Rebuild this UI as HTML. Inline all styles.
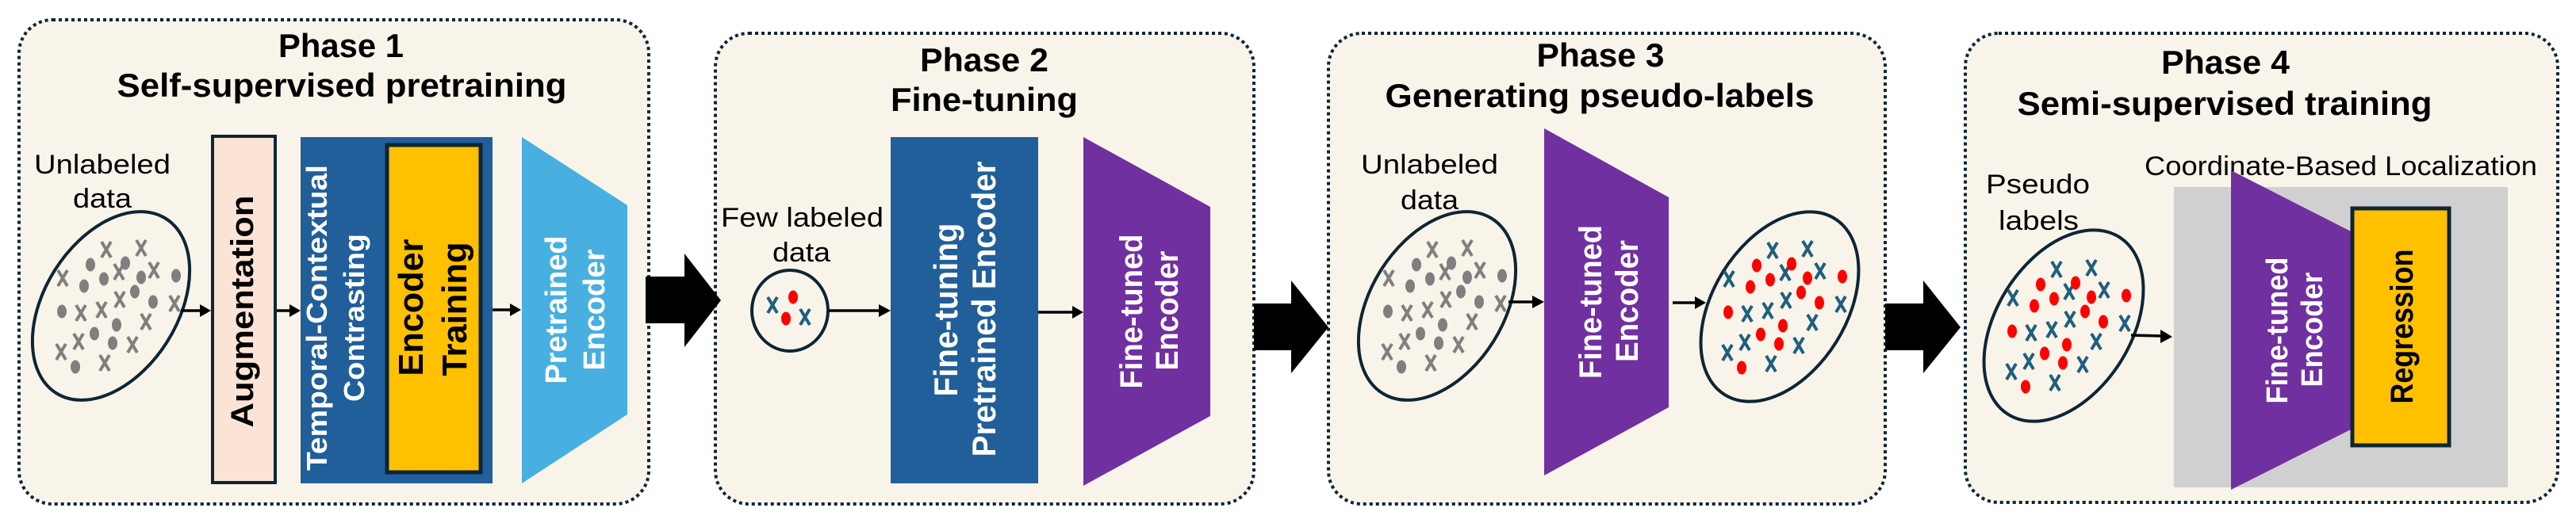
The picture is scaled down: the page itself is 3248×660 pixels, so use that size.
<!DOCTYPE html>
<html><head><meta charset="utf-8"><style>
html,body{margin:0;padding:0;background:#fff;}
svg{display:block;}
.t{font-family:"Liberation Sans",Arial,sans-serif;font-weight:bold;fill:#000;}
.r{font-family:"Liberation Sans",Arial,sans-serif;fill:#000;font-size:34px;}
.w{font-family:"Liberation Sans",Arial,sans-serif;font-weight:bold;fill:#fff;}
.b{font-family:"Liberation Sans",Arial,sans-serif;font-weight:bold;fill:#000;}
</style></head><body>
<svg width="3248" height="660" viewBox="0 0 3248 660" xmlns="http://www.w3.org/2000/svg">
<defs>
<g id="pat">
  <g style="stroke:var(--xc)" stroke-width="4" stroke-linecap="butt">
    <path d="M-15,-81 l12,20 M-3,-81 l-12,20"/>
    <path d="M29,-83 l12,20 M41,-83 l-12,20"/>
    <path d="M-70,-45 l12,20 M-58,-45 l-12,20"/>
    <path d="M45,-55 l12,20 M57,-55 l-12,20"/>
    <path d="M1,-53 l12,20 M13,-53 l-12,20"/>
    <path d="M-47,-1 l12,20 M-35,-1 l-12,20"/>
    <path d="M-21,-5 l12,20 M-9,-5 l-12,20"/>
    <path d="M2,-18 l12,20 M14,-18 l-12,20"/>
    <path d="M35,10 l12,20 M47,10 l-12,20"/>
    <path d="M71,-13 l12,20 M83,-13 l-12,20"/>
    <path d="M-50,35 l12,20 M-38,35 l-12,20"/>
    <path d="M-72,48 l12,20 M-60,48 l-12,20"/>
    <path d="M18,39 l12,20 M30,39 l-12,20"/>
    <path d="M-17,62 l12,20 M-5,62 l-12,20"/>
  </g>
  <g style="fill:var(--dc)">
    <ellipse cx="-29" cy="-52" rx="6" ry="8.5"/>
    <ellipse cx="15" cy="-54" rx="6" ry="8.5"/>
    <ellipse cx="-12" cy="-34" rx="6" ry="8.5"/>
    <ellipse cx="35" cy="-36" rx="6" ry="8.5"/>
    <ellipse cx="79" cy="-38" rx="6" ry="8.5"/>
    <ellipse cx="-37" cy="-25" rx="6" ry="8.5"/>
    <ellipse cx="27" cy="-18" rx="6" ry="8.5"/>
    <ellipse cx="50" cy="-5" rx="6" ry="8.5"/>
    <ellipse cx="-65" cy="7" rx="6" ry="8.5"/>
    <ellipse cx="4" cy="24" rx="6" ry="8.5"/>
    <ellipse cx="-24" cy="35" rx="6" ry="8.5"/>
    <ellipse cx="-1" cy="47" rx="6" ry="8.5"/>
    <ellipse cx="-48" cy="77" rx="6" ry="8.5"/>
  </g>
</g>
<marker id="ah" markerWidth="10" markerHeight="10" refX="9" refY="5" orient="auto" markerUnits="userSpaceOnUse" viewBox="0 0 10 10">
</marker>
</defs>

<!-- Panels -->
<g fill="#f8f4ea" stroke="#0d2535" stroke-width="4" stroke-dasharray="4 4">
  <rect x="24" y="25" width="794" height="611" rx="42"/>
  <rect x="902" y="42" width="679" height="594" rx="42"/>
  <rect x="1675" y="42" width="702" height="594" rx="42"/>
  <rect x="2478" y="42" width="747" height="592" rx="42"/>
</g>

<!-- Big arrows -->
<polygon points="814,349 863,349 863,320 909,379 863,438 863,408 814,408" fill="#000"/>
<polygon points="1581,383 1628,383 1628,354 1675,413 1628,471 1628,442 1581,442" fill="#000"/>
<polygon points="2377,383 2425,383 2425,354 2472,413 2425,471 2425,442 2377,442" fill="#000"/>

<!-- Titles -->
<text class="t" font-size="42" x="430" y="72" text-anchor="middle" textLength="158" lengthAdjust="spacingAndGlyphs">Phase 1</text>
<text class="t" font-size="42" x="431" y="122" text-anchor="middle" textLength="567" lengthAdjust="spacingAndGlyphs">Self-supervised pretraining</text>
<text class="t" font-size="42" x="1241" y="90" text-anchor="middle" textLength="162" lengthAdjust="spacingAndGlyphs">Phase 2</text>
<text class="t" font-size="42" x="1241" y="140" text-anchor="middle" textLength="236" lengthAdjust="spacingAndGlyphs">Fine-tuning</text>
<text class="t" font-size="42" x="2018" y="84" text-anchor="middle" textLength="161" lengthAdjust="spacingAndGlyphs">Phase 3</text>
<text class="t" font-size="42" x="2017" y="135" text-anchor="middle" textLength="541" lengthAdjust="spacingAndGlyphs">Generating pseudo-labels</text>
<text class="t" font-size="42" x="2806" y="93" text-anchor="middle" textLength="162" lengthAdjust="spacingAndGlyphs">Phase 4</text>
<text class="t" font-size="42" x="2805" y="145" text-anchor="middle" textLength="523" lengthAdjust="spacingAndGlyphs">Semi-supervised training</text>

<!-- ===== Phase 1 ===== -->
<text class="r" x="43" y="219" textLength="172" lengthAdjust="spacingAndGlyphs">Unlabeled</text>
<text class="r" x="92" y="262" textLength="74" lengthAdjust="spacingAndGlyphs">data</text>
<ellipse cx="140" cy="386" rx="84" ry="130" transform="rotate(32 140 386)" fill="none" stroke="#0d2535" stroke-width="4"/>
<use href="#pat" x="143" y="386" style="--xc:#7f7f7f;--dc:#7f7f7f"/>
<g stroke="#000" stroke-width="3.5"><line x1="228" y1="392" x2="254" y2="392"/><line x1="348" y1="392" x2="367" y2="392"/><line x1="621" y1="391" x2="645" y2="391"/></g>
<g fill="#000"><polygon points="252,384 266,392 252,400"/><polygon points="365,384 379,392 365,400"/><polygon points="643,383 657,391 643,399"/></g>
<rect x="268" y="172" width="79" height="437" fill="#fbe3d6" stroke="#0d2535" stroke-width="4"/>
<text class="b" font-size="40" transform="translate(319,393) rotate(-90)" text-anchor="middle" textLength="293" lengthAdjust="spacingAndGlyphs">Augmentation</text>
<rect x="379" y="173" width="242" height="437" fill="#215f9a"/>
<text class="w" font-size="36" transform="translate(412,401) rotate(-90)" text-anchor="middle" textLength="386" lengthAdjust="spacingAndGlyphs">Temporal-Contextual</text>
<text class="w" font-size="36" transform="translate(459,401) rotate(-90)" text-anchor="middle" textLength="212" lengthAdjust="spacingAndGlyphs">Contrasting</text>
<rect x="488" y="183" width="118" height="413" fill="#ffc000" stroke="#0d2535" stroke-width="5"/>
<text class="b" font-size="44" transform="translate(533,388) rotate(-90)" text-anchor="middle" textLength="173" lengthAdjust="spacingAndGlyphs">Encoder</text>
<text class="b" font-size="44" transform="translate(588,390) rotate(-90)" text-anchor="middle" textLength="169" lengthAdjust="spacingAndGlyphs">Training</text>
<polygon points="658,173 791,259 791,523 658,610" fill="#47b0e0"/>
<text class="w" font-size="38" transform="translate(714,391) rotate(-90)" text-anchor="middle" textLength="187" lengthAdjust="spacingAndGlyphs">Pretrained</text>
<text class="w" font-size="38" transform="translate(762,391) rotate(-90)" text-anchor="middle" textLength="153" lengthAdjust="spacingAndGlyphs">Encoder</text>

<!-- ===== Phase 2 ===== -->
<text class="r" x="909" y="286" textLength="205" lengthAdjust="spacingAndGlyphs">Few labeled</text>
<text class="r" x="974" y="330" textLength="73" lengthAdjust="spacingAndGlyphs">data</text>
<ellipse cx="996" cy="392" rx="48" ry="51" fill="none" stroke="#0d2535" stroke-width="4"/>
<g stroke="#1f5f7f" stroke-width="4"><path d="M968,375 l12,20 M980,375 l-12,20"/><path d="M1009,390 l12,20 M1021,390 l-12,20"/></g>
<g fill="#ff0000"><ellipse cx="1000" cy="375" rx="6" ry="8.5"/><ellipse cx="991" cy="402" rx="6" ry="8.5"/></g>
<g stroke="#000" stroke-width="3.5"><line x1="1045" y1="392" x2="1110" y2="392"/><line x1="1309" y1="394" x2="1354" y2="394"/></g>
<g fill="#000"><polygon points="1108,384 1123,392 1108,400"/><polygon points="1352,386 1366,394 1352,402"/></g>
<rect x="1123" y="173" width="186" height="437" fill="#215f9a"/>
<text class="w" font-size="42" transform="translate(1207,391) rotate(-90)" text-anchor="middle" textLength="219" lengthAdjust="spacingAndGlyphs">Fine-tuning</text>
<text class="w" font-size="42" transform="translate(1255,390) rotate(-90)" text-anchor="middle" textLength="373" lengthAdjust="spacingAndGlyphs">Pretrained Encoder</text>
<polygon points="1366,173 1526,261 1526,525 1366,613" fill="#7030a0"/>
<text class="w" font-size="40" transform="translate(1440,393) rotate(-90)" text-anchor="middle" textLength="195" lengthAdjust="spacingAndGlyphs">Fine-tuned</text>
<text class="w" font-size="40" transform="translate(1485,392) rotate(-90)" text-anchor="middle" textLength="151" lengthAdjust="spacingAndGlyphs">Encoder</text>

<!-- ===== Phase 3 ===== -->
<text class="r" x="1716" y="219" textLength="173" lengthAdjust="spacingAndGlyphs">Unlabeled</text>
<text class="r" x="1766" y="264" textLength="73" lengthAdjust="spacingAndGlyphs">data</text>
<ellipse cx="1812" cy="386" rx="84" ry="130" transform="rotate(32 1812 386)" fill="none" stroke="#0d2535" stroke-width="4"/>
<use href="#pat" x="1815" y="386" style="--xc:#7f7f7f;--dc:#7f7f7f"/>
<g stroke="#000" stroke-width="3.5"><line x1="1902" y1="381" x2="1934" y2="381"/><line x1="2109" y1="382" x2="2139" y2="382"/></g>
<g fill="#000"><polygon points="1932,373 1947,381 1932,389"/><polygon points="2137,374 2151,382 2137,390"/></g>
<polygon points="1947,162 2104,249 2104,514 1947,600" fill="#7030a0"/>
<text class="w" font-size="40" transform="translate(2019,381) rotate(-90)" text-anchor="middle" textLength="194" lengthAdjust="spacingAndGlyphs">Fine-tuned</text>
<text class="w" font-size="40" transform="translate(2065,380) rotate(-90)" text-anchor="middle" textLength="154" lengthAdjust="spacingAndGlyphs">Encoder</text>
<ellipse cx="2244" cy="387" rx="84" ry="131" transform="rotate(32 2244 387)" fill="none" stroke="#0d2535" stroke-width="4"/>
<use href="#pat" x="2244" y="387" style="--xc:#1f5f7f;--dc:#ff0000"/>

<!-- ===== Phase 4 ===== -->
<text class="r" x="2504" y="244" textLength="131" lengthAdjust="spacingAndGlyphs">Pseudo</text>
<text class="r" x="2520" y="290" textLength="101" lengthAdjust="spacingAndGlyphs">labels</text>
<ellipse cx="2602" cy="411" rx="85" ry="132" transform="rotate(32 2602 411)" fill="none" stroke="#0d2535" stroke-width="4"/>
<use href="#pat" x="2602" y="411" style="--xc:#1f5f7f;--dc:#ff0000"/>
<rect x="2741" y="236" width="421" height="379" fill="#d0d0d0"/>
<text class="r" x="2704" y="221" textLength="495" lengthAdjust="spacingAndGlyphs">Coordinate-Based Localization</text>
<line x1="2687" y1="423" x2="2726" y2="424" stroke="#000" stroke-width="3.5"/>
<polygon points="2724,416 2739,425 2724,433" fill="#000"/>
<polygon points="2813,215 2966,293 2966,541 2813,618" fill="#7030a0"/>
<text class="w" font-size="38" transform="translate(2884,417) rotate(-90)" text-anchor="middle" textLength="185" lengthAdjust="spacingAndGlyphs">Fine-tuned</text>
<text class="w" font-size="38" transform="translate(2928,416) rotate(-90)" text-anchor="middle" textLength="145" lengthAdjust="spacingAndGlyphs">Encoder</text>
<rect x="2966" y="263" width="122" height="299" fill="#ffc000" stroke="#0d2535" stroke-width="5"/>
<text class="b" font-size="40" transform="translate(3042,412) rotate(-90)" text-anchor="middle" textLength="195" lengthAdjust="spacingAndGlyphs">Regression</text>
</svg>
</body></html>
